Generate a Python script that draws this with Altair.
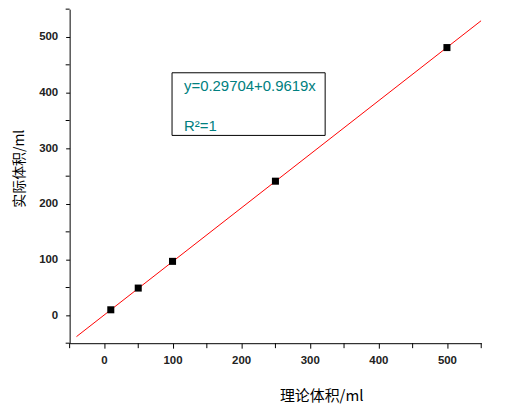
import altair as alt
import pandas as pd

# measured points
x_theory = [10, 50, 100, 250, 500]
y_actual = [10, 49, 97, 241, 481]

# fitted line (from the equation in the chart)
intercept = 0.29704
slope = 0.9619
line_x = [-40, 550]
line_y = [intercept + slope * v for v in line_x]

eq_lines = ["y=0.29704+0.9619x", "R²=1"]
major_ticks = [0, 100, 200, 300, 400, 500]
minor_ticks = [-50, 50, 150, 250, 350, 450, 550]

pts = pd.DataFrame({"x": x_theory, "y": y_actual})
ln = pd.DataFrame({"x": line_x, "y": line_y})

FONT = "Liberation Sans, Arial, Noto Sans CJK SC"
CJK = "Noto Sans CJK SC, Liberation Sans"

xs = alt.Scale(domain=[-50, 550], nice=False, zero=False)
ys = alt.Scale(domain=[-50, 550], nice=False, zero=False)

xaxis = alt.Axis(
    values=major_ticks,
    labelOverlap=False,
    grid=False, domainColor="black", tickColor="black", tickSize=5,
    labelFont=FONT, labelFontSize=11.5, labelFontWeight="bold", labelColor="#222",
    labelPadding=6, labelFlush=False,
    title="理论体积/ml", titleFont=CJK, titleFontSize=15, titleFontWeight="normal",
    titleX=253, titleY=53, titleAnchor="middle", titleBaseline="middle",
)
yaxis = alt.Axis(
    values=major_ticks,
    labelOverlap=False,
    grid=False, domainColor="black", tickColor="black", tickSize=4,
    labelFont=FONT, labelFontSize=11.5, labelFontWeight="bold", labelColor="#222",
    labelPadding=8, labelFlush=False,
    title="实际体积/ml", titleFont=CJK, titleFontSize=14, titleFontWeight="normal",
    titleAngle=-90, titleX=-50, titleY=160, titleAnchor="middle", titleBaseline="middle",
)

line = alt.Chart(ln).mark_line(color="red", strokeWidth=1, clip=True).encode(
    x=alt.X("x:Q", scale=xs, axis=xaxis),
    y=alt.Y("y:Q", scale=ys, axis=yaxis),
)
points = alt.Chart(pts).mark_square(color="black", size=50, opacity=1).encode(
    x=alt.X("x:Q", scale=xs),
    y=alt.Y("y:Q", scale=ys),
)
minor = pd.DataFrame({"v": minor_ticks})
xminor = alt.Chart(minor).mark_rule(color="black", strokeWidth=1, clip=False).encode(
    x=alt.X("v:Q", scale=xs), y=alt.value(336), y2=alt.value(341)
)
yminor = alt.Chart(minor).mark_rule(color="black", strokeWidth=1, clip=False).encode(
    y=alt.Y("v:Q", scale=ys), x=alt.value(0), x2=alt.value(-4)
)
box = alt.Chart(pd.DataFrame({"a": [0]})).mark_rect(
    fill="white", stroke="black", strokeWidth=1
).encode(x=alt.value(103), x2=alt.value(257), y=alt.value(64), y2=alt.value(127))

txt1 = alt.Chart(pd.DataFrame({"t": [eq_lines[0]]})).mark_text(
    align="left", baseline="middle", font=FONT, fontSize=15, color="#008080"
).encode(x=alt.value(115), y=alt.value(77), text="t:N")
txt2 = alt.Chart(pd.DataFrame({"t": [eq_lines[1]]})).mark_text(
    align="left", baseline="middle", font=FONT, fontSize=15, color="#008080"
).encode(x=alt.value(115), y=alt.value(118), text="t:N")

chart = alt.layer(line, points, xminor, yminor, box, txt1, txt2).properties(
    width=414, height=336,
    autosize=alt.AutoSizeParams(type="none"),
    padding={"left": 62, "top": 0, "right": 40, "bottom": 60},
).configure_view(stroke=None)

chart.save("out.html", embed_options={"renderer": "svg", "actions": False})
